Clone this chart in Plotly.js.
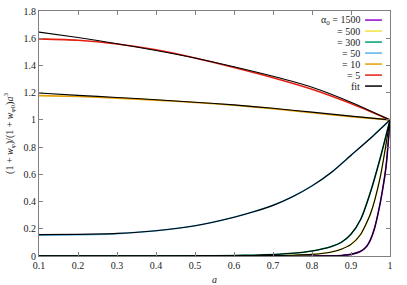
<!DOCTYPE html>
<html><head><meta charset="utf-8">
<script src="https://cdn.plot.ly/plotly-3.0.1.min.js"></script>
<style>html,body{margin:0;padding:0;background:#fff}#c{width:407px;height:285px}</style>
</head><body><div id="c"></div>
<script>
// alpha0 = 5
const a5 = [0.1,0.2,0.3,0.4,0.5,0.6,0.7,0.8,0.9,1.0];
const y5 = [1.595,1.585,1.558,1.515,1.455,1.385,1.31,1.225,1.12,1.0];
const fit5 = [1.645,1.605,1.56,1.51,1.455,1.39,1.32,1.24,1.13,1.0];
// alpha0 = 10
const a10 = [0.1,0.2,0.3,0.4,0.5,0.6,0.7,0.8,0.9,1.0];
const y10 = [1.178,1.172,1.16,1.145,1.128,1.108,1.083,1.052,1.024,1.0];
const fit10 = [1.198,1.18,1.165,1.148,1.13,1.11,1.085,1.057,1.028,1.0];
// alpha0 = 50
const a50 = [0.1,0.2,0.3,0.4,0.5,0.6,0.65,0.7,0.75,0.8,0.85,0.9,0.95,1.0];
const y50 = [0.153,0.156,0.164,0.185,0.222,0.285,0.325,0.372,0.435,0.515,0.615,0.74,0.865,1.0];
const fit50 = [0.157,0.159,0.166,0.186,0.222,0.285,0.325,0.372,0.435,0.515,0.615,0.74,0.865,1.0];
// alpha0 = 300
const a300 = [0.1,0.3,0.5,0.6,0.65,0.7,0.75,0.8,0.85,0.875,0.9,0.925,0.95,0.975,1.0];
const y300 = [0,0,0.001,0.003,0.006,0.011,0.02,0.037,0.07,0.1,0.16,0.27,0.47,0.72,1.0];
// alpha0 = 500
const a500 = [0.1,0.5,0.7,0.75,0.8,0.85,0.875,0.9,0.925,0.95,0.975,1.0];
const y500 = [0,0,0.003,0.006,0.012,0.03,0.05,0.085,0.16,0.31,0.58,1.0];
// alpha0 = 1500
const a1500 = [0.1,0.8,0.85,0.875,0.9,0.925,0.94,0.95,0.96,0.97,0.98,0.99,1.0];
const y1500 = [0,0,0.002,0.004,0.012,0.035,0.07,0.12,0.2,0.32,0.47,0.66,1.0];

const legendLabels = ['α<sub>0</sub> = 1500','= 500','= 300','= 50','= 10','= 5','fit'];
const legendColors = ['#9400d3','#f0e442','#009e73','#56b4e9','#e69f00','#e51e10','#000000'];

const col = {c1500:'#9400d3',c500:'#f0e442',c300:'#009e73',c50:'#56b4e9',c10:'#e69f00',c5:'#e51e10'};
function tr(x,y,c,w){return {x:x,y:y,type:'scatter',mode:'lines',line:{color:c,width:w,shape:'spline',smoothing:0.6},showlegend:false,hoverinfo:'skip'};}
const data = [
  tr(a1500,y1500,col.c1500,1.6),
  tr(a500,y500,col.c500,1.6),
  tr(a300,y300,col.c300,1.6),
  tr(a50,y50,col.c50,1.6),
  tr(a10,y10,col.c10,1.6),
  tr(a5,y5,col.c5,1.6),
  tr(a1500,y1500,'#000',1.1),
  tr(a500,y500,'#000',1.1),
  tr(a300,y300,'#000',1.1),
  tr(a50,fit50,'#000',1.1),
  tr(a10,fit10,'#000',1.1),
  tr(a5,fit5,'#000',1.1)
];

const font = {family:'Liberation Serif, DejaVu Serif, serif', size:10, color:'#222'};
const annotations = [];
const shapes = [];
const y0 = 0.963, dy = 0.0449;
legendLabels.forEach((t,i)=>{
  const yy = y0 - i*dy;
  annotations.push({xref:'paper',yref:'paper',x:0.92,y:yy,xanchor:'right',yanchor:'middle',text:t,showarrow:false,font:font});
  shapes.push({type:'line',xref:'paper',yref:'paper',x0:0.929,x1:0.977,y0:yy,y1:yy,line:{color:legendColors[i],width:1.5}});
});

const axisCommon = {showgrid:false,zeroline:false,showline:true,linecolor:'#808080',linewidth:1,mirror:'ticks',ticks:'inside',ticklen:4,tickcolor:'#808080',tickfont:font};
const layout = {
  width:407,height:285,
  margin:{l:39,r:17,t:11,b:29},
  paper_bgcolor:'#fff',plot_bgcolor:'#fff',
  showlegend:false,
  xaxis:Object.assign({},axisCommon,{range:[0.1,1],tick0:0.1,dtick:0.1,title:{text:'<i>a</i>',font:font,standoff:6}}),
  yaxis:Object.assign({},axisCommon,{range:[0,1.8],tick0:0,dtick:0.2,title:{text:'(1 + <i>w</i><sub>φ</sub>)/(1 + <i>w</i><sub>φ0</sub>)<i>a</i><sup>3</sup>',font:font,standoff:8}}),
  annotations:annotations,
  shapes:shapes
};
Plotly.newPlot('c',data,layout,{staticPlot:true,displayModeBar:false});
</script></body></html>
